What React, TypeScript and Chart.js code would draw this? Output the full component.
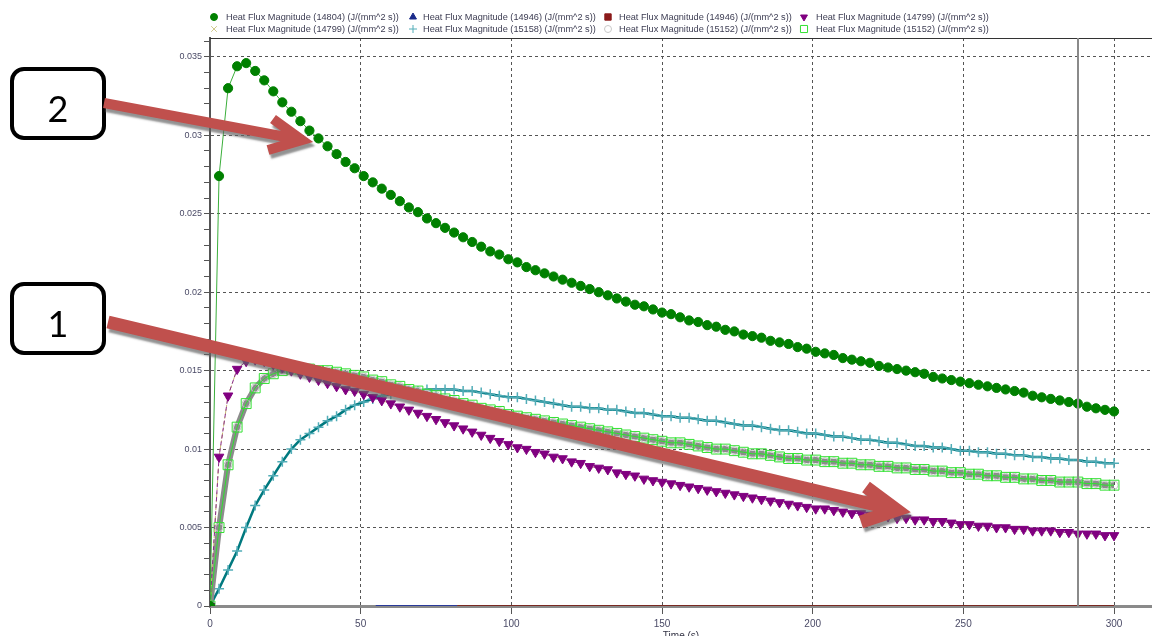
import React, { useEffect, useRef } from 'react';
import { Chart, registerables } from 'chart.js';
import { drawPoint } from 'chart.js/helpers';

Chart.register(...registerables);

// ---------- data ----------
const times = [
  0, 3, 6, 9, 12, 15, 18, 21, 24, 27,
  30, 33, 36, 39, 42, 45, 48, 51, 54, 57,
  60, 63, 66, 69, 72, 75, 78, 81, 84, 87,
  90, 93, 96, 99, 102, 105, 108, 111, 114, 117,
  120, 123, 126, 129, 132, 135, 138, 141, 144, 147,
  150, 153, 156, 159, 162, 165, 168, 171, 174, 177,
  180, 183, 186, 189, 192, 195, 198, 201, 204, 207,
  210, 213, 216, 219, 222, 225, 228, 231, 234, 237,
  240, 243, 246, 249, 252, 255, 258, 261, 264, 267,
  270, 273, 276, 279, 282, 285, 288, 291, 294, 297,
  300,
];

const flux14804 = [
  0, 0.0274, 0.0330, 0.0344, 0.0346, 0.0341, 0.0335, 0.0328, 0.0321, 0.0315,
  0.0309, 0.0303, 0.0298, 0.0293, 0.0288, 0.0283, 0.0279, 0.0274, 0.0270, 0.0266,
  0.0262, 0.0258, 0.0254, 0.0251, 0.0247, 0.0244, 0.0241, 0.0238, 0.0235, 0.0232,
  0.0229, 0.0226, 0.0224, 0.0221, 0.0219, 0.0216, 0.0214, 0.0212, 0.0210, 0.0208,
  0.0206, 0.0204, 0.0202, 0.0200, 0.0198, 0.0196, 0.0194, 0.0192, 0.0191, 0.0189,
  0.0187, 0.0186, 0.0184, 0.0182, 0.0181, 0.0179, 0.0178, 0.0176, 0.0175, 0.0173,
  0.0172, 0.0171, 0.0169, 0.0168, 0.0167, 0.0165, 0.0164, 0.0162, 0.0161, 0.0160,
  0.0158, 0.0157, 0.0156, 0.0155, 0.0153, 0.0152, 0.0151, 0.0150, 0.0149, 0.0148,
  0.0146, 0.0145, 0.0144, 0.0143, 0.0142, 0.0141, 0.0140, 0.0139, 0.0138, 0.0137,
  0.0136, 0.0134, 0.0133, 0.0132, 0.0131, 0.0130, 0.0129, 0.0127, 0.0126, 0.0125,
  0.0124,
];

const flux14799 = [
  0, 0.0095, 0.0134, 0.0151, 0.0156, 0.0157, 0.0156, 0.0154, 0.0152, 0.0150,
  0.0148, 0.0146, 0.0144, 0.0142, 0.0140, 0.0138, 0.0137, 0.0135, 0.0133, 0.0131,
  0.0129, 0.0127, 0.0125, 0.0123, 0.0121, 0.0119, 0.0117, 0.0115, 0.0113, 0.0111,
  0.0109, 0.0107, 0.0105, 0.0103, 0.0101, 0.0100, 0.0098, 0.0097, 0.0095, 0.0094,
  0.0092, 0.0091, 0.0089, 0.0088, 0.0087, 0.0085, 0.0084, 0.0083, 0.0081, 0.0080,
  0.0079, 0.0078, 0.0077, 0.0076, 0.0075, 0.0074, 0.0073, 0.0072, 0.0071, 0.0070,
  0.0069, 0.0068, 0.0067, 0.0066, 0.0065, 0.0064, 0.0063, 0.0062, 0.0062, 0.0061,
  0.0060, 0.0059, 0.0059, 0.0058, 0.0057, 0.0057, 0.0056, 0.0056, 0.0055, 0.0055,
  0.0054, 0.0054, 0.0053, 0.0052, 0.0052, 0.0051, 0.0051, 0.0050, 0.0050, 0.0049,
  0.0049, 0.0048, 0.0048, 0.0048, 0.0047, 0.0047, 0.0046, 0.0046, 0.0046, 0.0045,
  0.0045,
];

const flux15152 = [
  0, 0.0050, 0.0090, 0.0114, 0.0129, 0.0139, 0.0145, 0.0148, 0.0150, 0.0151,
  0.0151, 0.0151, 0.0150, 0.0150, 0.0149, 0.0148, 0.0147, 0.0146, 0.0144, 0.0143,
  0.0141, 0.0140, 0.0138, 0.0137, 0.0135, 0.0134, 0.0132, 0.0131, 0.0129, 0.0128,
  0.0126, 0.0125, 0.0124, 0.0122, 0.0121, 0.0120, 0.0119, 0.0118, 0.0117, 0.0116,
  0.0115, 0.0114, 0.0113, 0.0112, 0.0111, 0.0110, 0.0109, 0.0108, 0.0107, 0.0106,
  0.0105, 0.0104, 0.0104, 0.0103, 0.0102, 0.0101, 0.0100, 0.0100, 0.0099, 0.0098,
  0.0097, 0.0097, 0.0096, 0.0095, 0.0094, 0.0094, 0.0093, 0.0093, 0.0092, 0.0092,
  0.0091, 0.0091, 0.0090, 0.0090, 0.0089, 0.0089, 0.0088, 0.0088, 0.0087, 0.0087,
  0.0086, 0.0086, 0.0085, 0.0085, 0.0084, 0.0084, 0.0083, 0.0083, 0.0082, 0.0082,
  0.0081, 0.0081, 0.0080, 0.0080, 0.0079, 0.0079, 0.0079, 0.0078, 0.0078, 0.0077,
  0.0077,
];

const flux15158 = [
  0, 0.0011, 0.0023, 0.0035, 0.0050, 0.0064, 0.0074, 0.0083, 0.0092, 0.0100,
  0.0106, 0.0110, 0.0114, 0.0118, 0.0121, 0.0125, 0.0128, 0.0130, 0.0132, 0.0134,
  0.0135, 0.0136, 0.0137, 0.0137, 0.0138, 0.0138, 0.0138, 0.0138, 0.0137, 0.0137,
  0.0136, 0.0135, 0.0134, 0.0133, 0.0133, 0.0132, 0.0131, 0.0130, 0.0129, 0.0128,
  0.0127, 0.0127, 0.0126, 0.0126, 0.0125, 0.0125, 0.0124, 0.0123, 0.0123, 0.0122,
  0.0121, 0.0121, 0.0120, 0.0120, 0.0119, 0.0118, 0.0118, 0.0117, 0.0116, 0.0115,
  0.0115, 0.0114, 0.0113, 0.0112, 0.0112, 0.0111, 0.0110, 0.0110, 0.0109, 0.0108,
  0.0108, 0.0107, 0.0106, 0.0106, 0.0105, 0.0104, 0.0104, 0.0103, 0.0102, 0.0102,
  0.0101, 0.0101, 0.0100, 0.0099, 0.0099, 0.0098, 0.0098, 0.0097, 0.0097, 0.0096,
  0.0096, 0.0095, 0.0095, 0.0094, 0.0094, 0.0093, 0.0093, 0.0092, 0.0092, 0.0091,
  0.0091,
];

const times14946Blue = [55, 82];
const flux14946Blue = [0, 0];
const times14946Red = [82, 300];
const flux14946Red = [0, 0];

const cursorTime = 288;
const xMax = 312.6;
const yMax = 0.0362;
const xStep = 10;
const xMajor = 50;
const yStep = 0.001;
const yMajorEvery = 5;

// ---------- styles ----------
type Series = {
  label: string; xs: number[]; ys: number[];
  line: string; lineWidth: number; dash: number[];
  point: string; radius: number; rotation: number;
  fill: string; stroke: string; order: number; legendRadius: number;
};

const NONE = 'rgba(0,0,0,0)';
const unit = ' (J/(mm^2 s))';

const series: Series[] = [
  { label: 'Heat Flux Magnitude (14804)' + unit, xs: times, ys: flux14804, line: '#3aae3a', lineWidth: 1, dash: [], point: 'circle', radius: 4.6, rotation: 0, fill: '#008000', stroke: '#008000', order: 0, legendRadius: 3.5 },
  { label: 'Heat Flux Magnitude (14946)' + unit, xs: times14946Blue, ys: flux14946Blue, line: '#2a3a9a', lineWidth: 2, dash: [], point: 'triangle', radius: 0, rotation: 0, fill: '#1a2a8a', stroke: '#1a2a8a', order: 6, legendRadius: 4 },
  { label: 'Heat Flux Magnitude (14946)' + unit, xs: times14946Red, ys: flux14946Red, line: '#7a2a22', lineWidth: 2, dash: [], point: 'rect', radius: 0, rotation: 0, fill: '#8b1a1a', stroke: '#8b1a1a', order: 7, legendRadius: 4.5 },
  { label: 'Heat Flux Magnitude (14799)' + unit, xs: times, ys: flux14799, line: '#8a2a8a', lineWidth: 1, dash: [4, 3], point: 'triangle', radius: 5.5, rotation: 180, fill: '#800080', stroke: '#800080', order: 1, legendRadius: 4 },
  { label: 'Heat Flux Magnitude (14799)' + unit, xs: times, ys: flux14799, line: '#c8b870', lineWidth: 1, dash: [6, 2, 2, 2], point: 'crossRot', radius: 3.8, rotation: 0, fill: NONE, stroke: '#d0c88c', order: 2, legendRadius: 4 },
  { label: 'Heat Flux Magnitude (15158)' + unit, xs: times, ys: flux15158, line: '#00797f', lineWidth: 2.5, dash: [], point: 'cross', radius: 5, rotation: 0, fill: NONE, stroke: '#52adb8', order: 5, legendRadius: 4 },
  { label: 'Heat Flux Magnitude (15152)' + unit, xs: times, ys: flux15152, line: '#8c8c8c', lineWidth: 6, dash: [], point: 'circle', radius: 4, rotation: 0, fill: NONE, stroke: '#c8c8c8', order: 4, legendRadius: 3.5 },
  { label: 'Heat Flux Magnitude (15152)' + unit, xs: times, ys: flux15152, line: '#2ee02e', lineWidth: 1, dash: [], point: 'rect', radius: 7, rotation: 0, fill: NONE, stroke: '#33e033', order: 3, legendRadius: 5 },
];

const toPoints = (xs: number[], ys: number[]) => xs.map((x, i) => ({ x, y: ys[i] }));

const isMajorX = (v: number) => Math.abs(v - Math.round(v)) < 1e-6 && Math.round(v) % xMajor === 0;
const isMajorY = (v: number) => {
  const r = Math.round(v / yStep);
  return Math.abs(v / yStep - r) < 1e-6 && r % yMajorEvery === 0;
};
const fmtY = (v: number) => {
  const r = Math.round(v / yStep);
  return r === 0 ? '0' : String(+(r * yStep).toFixed(3));
};

// ---------- overlay plugin: legend, frame, cursor, annotations ----------
const overlayPlugin = {
  id: 'overlay',
  afterDatasetsDraw(chart: any) {
    const { ctx, chartArea, scales } = chart;
    ctx.save();
    ctx.strokeStyle = '#333';
    ctx.lineWidth = 1;
    ctx.beginPath();
    ctx.moveTo(chartArea.left, chartArea.top + 0.5);
    ctx.lineTo(chartArea.right, chartArea.top + 0.5);
    ctx.stroke();
    const cx = Math.round(scales.x.getPixelForValue(cursorTime));
    ctx.strokeStyle = '#8a8a8a';
    ctx.lineWidth = 2;
    ctx.beginPath();
    ctx.moveTo(cx, chartArea.top);
    ctx.lineTo(cx, chartArea.bottom);
    ctx.stroke();
    ctx.restore();
  },
  afterDraw(chart: any) {
    const { ctx } = chart;
    ctx.save();
    const colMarker = [214, 413, 608, 804];
    const colText = [226, 423, 619, 816];
    const rowY = [17, 29];
    ctx.font = '9.2px "Liberation Sans", Arial, sans-serif';
    ctx.textBaseline = 'middle';
    ctx.textAlign = 'left';
    series.forEach((s, i) => {
      const col = i % 4;
      const row = Math.floor(i / 4);
      ctx.save();
      ctx.fillStyle = s.fill;
      ctx.strokeStyle = s.stroke;
      ctx.lineWidth = 1;
      drawPoint(ctx, { pointStyle: s.point as any, radius: s.legendRadius, rotation: s.rotation, borderWidth: 1 }, colMarker[col], rowY[row]);
      ctx.restore();
      ctx.fillStyle = '#3c3c52';
      ctx.fillText(s.label, colText[col], rowY[row]);
    });

    const boxes = [
      { text: '2', x: 12, y: 69, w: 92, h: 69, base: 122 },
      { text: '1', x: 12, y: 284, w: 92, h: 69, base: 337 },
    ];
    boxes.forEach((b) => {
      ctx.save();
      ctx.fillStyle = '#ffffff';
      ctx.strokeStyle = '#000000';
      ctx.lineWidth = 4;
      ctx.beginPath();
      (ctx as any).roundRect(b.x, b.y, b.w, b.h, 12);
      ctx.fill();
      ctx.stroke();
      ctx.fillStyle = '#000000';
      ctx.font = '36px Lato, "Open Sans", sans-serif';
      ctx.textAlign = 'center';
      ctx.textBaseline = 'alphabetic';
      ctx.fillText(b.text, b.x + b.w / 2, b.base);
      ctx.restore();
    });

    const arrows = [
      { start: [104, 103], tip: [302, 140], a1: [273, 119], a2: [268, 150], w: 10 },
      { start: [108, 322], tip: [897, 510], a1: [866, 487], a2: [861, 522], w: 13 },
    ];
    arrows.forEach((a) => {
      ctx.save();
      ctx.strokeStyle = '#c0504d';
      ctx.lineWidth = a.w;
      ctx.lineCap = 'butt';
      ctx.lineJoin = 'miter';
      ctx.shadowColor = 'rgba(100,100,100,0.7)';
      ctx.shadowOffsetX = 2;
      ctx.shadowOffsetY = 4;
      ctx.shadowBlur = 2;
      ctx.beginPath();
      ctx.moveTo(a.start[0], a.start[1]);
      ctx.lineTo(a.tip[0], a.tip[1]);
      ctx.moveTo(a.a1[0], a.a1[1]);
      ctx.lineTo(a.tip[0], a.tip[1]);
      ctx.lineTo(a.a2[0], a.a2[1]);
      ctx.stroke();
      ctx.restore();
    });
    ctx.restore();
  },
};

export default function App() {
  const canvasRef = useRef<HTMLCanvasElement>(null);

  useEffect(() => {
    Chart.defaults.font.family = '"Liberation Sans", Arial, sans-serif';
    const datasets = series.map((s) => ({
      label: s.label,
      data: toPoints(s.xs, s.ys),
      borderColor: s.line,
      borderWidth: s.lineWidth,
      borderDash: s.dash,
      borderJoinStyle: 'round' as const,
      backgroundColor: s.fill,
      pointStyle: s.point as any,
      pointRadius: s.radius,
      pointRotation: s.rotation,
      pointBackgroundColor: s.fill,
      pointBorderColor: s.stroke,
      pointBorderWidth: s.point === 'cross' ? 1.5 : 1,
      pointHoverRadius: s.radius,
      tension: 0,
      fill: false,
      order: s.order,
    }));

    const chart = new Chart(canvasRef.current!, {
      type: 'line',
      data: { datasets },
      plugins: [overlayPlugin],
      options: {
        responsive: false,
        animation: false,
        events: [],
        devicePixelRatio: 1,
        layout: { autoPadding: false, padding: { top: 38, left: 0, right: 0, bottom: 0 } },
        plugins: { legend: { display: false }, tooltip: { enabled: false } },
        scales: {
          x: {
            type: 'linear',
            min: 0,
            max: xMax,
            bounds: 'data',
            afterFit: (scale: any) => { scale.height = 42; scale.paddingRight = 0; scale.paddingLeft = 0; },
            ticks: {
              stepSize: xStep,
              autoSkip: false,
              includeBounds: false,
              maxRotation: 0,
              padding: 4,
              color: '#4a4a66',
              font: { size: 10 },
              callback: (v: any) => (isMajorX(Number(v)) ? String(Math.round(Number(v))) : ''),
            },
            grid: {
              color: (c: any) => (c.tick && isMajorX(c.tick.value) ? '#555555' : NONE),
              tickColor: (c: any) => (c.tick && isMajorX(c.tick.value) ? '#555555' : NONE),
              lineWidth: 1,
              tickLength: 8,
            },
            border: { display: true, color: '#8a8a8a', width: 3, dash: [3, 3] },
            title: {
              display: true,
              text: 'Time (s)',
              color: '#333344',
              font: { size: 10 },
              padding: { top: 0, bottom: 6 },
            },
          },
          y: {
            type: 'linear',
            min: 0,
            max: yMax,
            bounds: 'data',
            afterFit: (scale: any) => { scale.width = 210; scale.paddingTop = 0; scale.paddingBottom = 0; },
            ticks: {
              stepSize: yStep,
              autoSkip: false,
              includeBounds: false,
              padding: 2,
              color: '#4a4a66',
              font: { size: 9 },
              callback: (v: any) => (isMajorY(Number(v)) ? fmtY(Number(v)) : ''),
            },
            grid: {
              color: (c: any) => (c.tick && isMajorY(c.tick.value) && c.tick.value > 0 ? '#555555' : NONE),
              tickColor: '#555555',
              lineWidth: 1,
              tickLength: 6,
            },
            border: { display: true, color: '#555555', width: 2, dash: [3, 3] },
          },
        },
      },
    } as any);
    return () => chart.destroy();
  }, []);

  return (
    <div style={{ position: 'fixed', left: 0, top: 0, width: 1152, height: 636, overflow: 'hidden', background: '#ffffff' }}>
      <canvas ref={canvasRef} width={1152} height={648} style={{ display: 'block' }} />
    </div>
  );
}
